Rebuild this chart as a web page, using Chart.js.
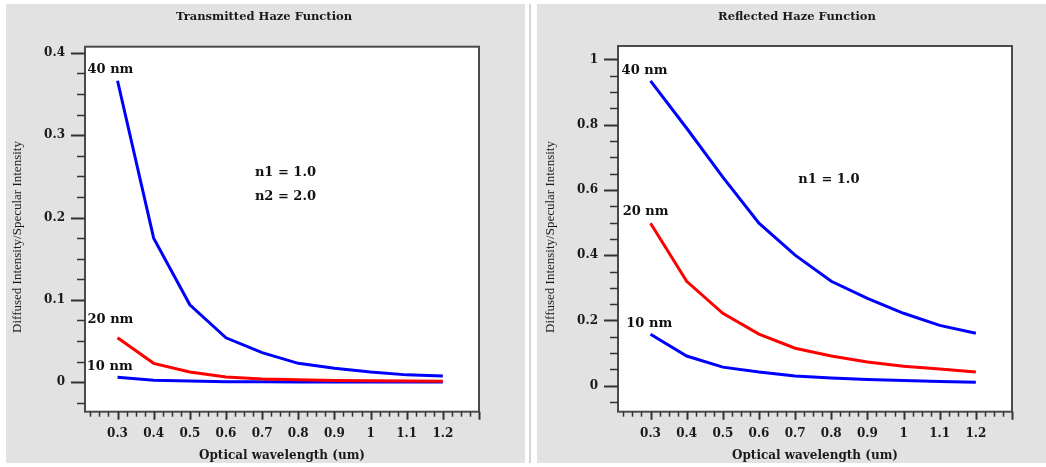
<!DOCTYPE html>
<html>
<head>
<meta charset="utf-8">
<title>Haze Function</title>
<script src="https://cdn.jsdelivr.net/npm/chart.js@4.4.1/dist/chart.umd.min.js"></script>
<style>
  html, body { margin: 0; padding: 0; background: #fff; overflow: hidden; }
  body { width: 1046px; height: 467px; position: relative; }
  .panel { position: absolute; top: 4px; height: 459px; background: #e2e2e2; }
  #leftPanel { left: 6px; width: 519px; }
  #rightPanel { left: 537px; width: 509px; }
  #divider { position: absolute; left: 529px; top: 4px; width: 2px; height: 459px; background: #d4d4d4; }
  canvas { display: block; }
</style>
</head>
<body>
<div class="panel" id="leftPanel"><canvas id="transChart" width="519" height="459"></canvas></div>
<div id="divider"></div>
<div class="panel" id="rightPanel"><canvas id="reflChart" width="509" height="459"></canvas></div>
<script>
// x values (um)
const wavelengths = [0.3, 0.4, 0.5, 0.6, 0.7, 0.8, 0.9, 1.0, 1.1, 1.2];

// transmitted haze, n1 = 1.0, n2 = 2.0
const trans40 = [0.366, 0.175, 0.094, 0.054, 0.036, 0.023, 0.017, 0.0125, 0.009, 0.0077];
const trans20 = [0.054, 0.023, 0.0125, 0.0065, 0.004, 0.003, 0.0022, 0.0018, 0.0015, 0.0012];
const trans10 = [0.006, 0.0025, 0.0015, 0.0008, 0.0005, 0.0004, 0.0003, 0.0003, 0.0002, 0.0002];

// reflected haze, n1 = 1.0
const refl40 = [0.934, 0.789, 0.639, 0.498, 0.40, 0.32, 0.268, 0.222, 0.185, 0.161];
const refl20 = [0.498, 0.32, 0.222, 0.158, 0.115, 0.091, 0.073, 0.06, 0.051, 0.042];
const refl10 = [0.158, 0.091, 0.057, 0.042, 0.030, 0.024, 0.019, 0.016, 0.013, 0.011];

const sizeLabels = ["40 nm", "20 nm", "10 nm"];

// tick labels
const xTickValues = [0.3, 0.4, 0.5, 0.6, 0.7, 0.8, 0.9, 1.0, 1.1, 1.2];
const xTickLabels = ["0.3", "0.4", "0.5", "0.6", "0.7", "0.8", "0.9", "1", "1.1", "1.2"];
const transYTicks = [0, 0.1, 0.2, 0.3, 0.4];
const transYLabels = ["0", "0.1", "0.2", "0.3", "0.4"];
const reflYTicks = [0, 0.2, 0.4, 0.6, 0.8, 1];
const reflYLabels = ["0", "0.2", "0.4", "0.6", "0.8", "1"];

const BLUE = "#0000ff";
const RED = "#ff0000";
const tickFont = { family: "'DejaVu Serif'", size: 12, weight: "bold" };

// frame, minor/major tick marks, titles and the text notes
const hazeDecor = {
  id: "hazeDecor",
  beforeDraw(chart) {
    const { ctx, chartArea: a } = chart;
    ctx.save();
    ctx.fillStyle = "#fff";
    ctx.fillRect(a.left, a.top, a.right - a.left, a.bottom - a.top);
    ctx.restore();
  },
  afterDraw(chart, args, opts) {
    const { ctx, chartArea: a } = chart;
    const xs = chart.scales.x;
    const ys = chart.scales.y;
    ctx.save();

    ctx.strokeStyle = "#4a4a4a";
    ctx.lineWidth = 2;
    ctx.strokeRect(a.left, a.top, a.right - a.left, a.bottom - a.top);

    // y ticks
    ctx.strokeStyle = "#333";
    let n0 = Math.ceil(ys.min / opts.yMinor - 1e-6);
    for (let n = n0; n * opts.yMinor <= ys.max + 1e-9; n++) {
      const v = n * opts.yMinor;
      const major = Math.abs(v / opts.yMajor - Math.round(v / opts.yMajor)) < 1e-6;
      const py = Math.round(ys.getPixelForValue(v)) + 0.5;
      ctx.lineWidth = major ? 2 : 1.5;
      ctx.beginPath();
      ctx.moveTo(a.left - (major ? 14 : 8), py);
      ctx.lineTo(a.left, py);
      ctx.stroke();
    }
    // x ticks
    n0 = Math.ceil(xs.min / opts.xMinor - 1e-6);
    for (let n = n0; n * opts.xMinor <= xs.max + 1e-9; n++) {
      const v = n * opts.xMinor;
      const major = Math.abs(v / opts.xMajor - Math.round(v / opts.xMajor)) < 1e-6;
      const px = Math.round(xs.getPixelForValue(v)) + 0.5;
      ctx.lineWidth = major ? 2 : 1.5;
      ctx.beginPath();
      ctx.moveTo(px, a.bottom);
      ctx.lineTo(px, a.bottom + (major ? 8 : 5));
      ctx.stroke();
    }

    // notes inside the plot
    ctx.fillStyle = "#111";
    ctx.font = "bold 13px 'DejaVu Serif'";
    ctx.textAlign = "left";
    ctx.textBaseline = "middle";
    opts.notes.forEach((nt) => {
      ctx.fillText(nt.text, xs.getPixelForValue(nt.x), ys.getPixelForValue(nt.y));
    });

    // titles
    ctx.fillStyle = "#1a1a1a";
    ctx.textAlign = "center";
    ctx.font = "bold 11.5px 'DejaVu Serif'";
    ctx.fillText(opts.title, opts.titleX, 13);
    ctx.font = "bold 12px 'DejaVu Serif'";
    ctx.fillText("Optical wavelength (um)", (a.left + a.right) / 2, 452);

    ctx.translate(opts.yTitleX, 233);
    ctx.rotate(-Math.PI / 2);
    ctx.font = "13px 'Liberation Serif'";
    ctx.fillText("Diffused Intensity/Specular Intensity", 0, 0);
    ctx.restore();
  },
};

function makeChart(id, cfg) {
  return new Chart(document.getElementById(id), {
    type: "line",
    data: {
      datasets: cfg.series.map((s, i) => ({
        label: sizeLabels[i],
        data: wavelengths.map((w, j) => ({ x: w, y: s[j] })),
        borderColor: cfg.colors[i],
        borderWidth: 3,
        pointRadius: 0,
        tension: 0,
        fill: false,
      })),
    },
    options: {
      responsive: false,
      animation: false,
      layout: { padding: { top: cfg.top, left: 0, right: cfg.right, bottom: 0 } },
      plugins: {
        legend: { display: false },
        tooltip: { enabled: false },
        hazeDecor: cfg.decor,
      },
      scales: {
        x: {
          type: "linear",
          min: 0.21,
          max: 1.3,
          grid: { display: false, drawTicks: false, tickLength: 0 },
          border: { display: false },
          afterFit: (s) => { s.height = 459 - cfg.bottom; },
          afterBuildTicks: (s) => { s.ticks = xTickValues.map((v) => ({ value: v })); },
          ticks: {
            padding: 15,
            font: tickFont,
            color: "#1a1a1a",
            maxRotation: 0,
            autoSkip: false,
            callback: (v, i) => xTickLabels[i],
          },
        },
        y: {
          min: cfg.yMin,
          max: cfg.yMax,
          grid: { display: false, drawTicks: false, tickLength: 0 },
          border: { display: false },
          afterFit: (s) => { s.width = cfg.left; },
          afterBuildTicks: (s) => { s.ticks = cfg.yTicks.map((v) => ({ value: v })); },
          ticks: {
            padding: 20,
            font: tickFont,
            color: "#1a1a1a",
            autoSkip: false,
            callback: (v, i) => cfg.yLabels[i],
          },
        },
      },
    },
    plugins: [hazeDecor],
  });
}

makeChart("transChart", {
  series: [trans40, trans20, trans10],
  colors: [BLUE, RED, BLUE],
  top: 42.7,
  left: 79,
  right: 519 - 473,
  bottom: 407.7,
  yMin: -0.0357,
  yMax: 0.4073,
  yTicks: transYTicks,
  yLabels: transYLabels,
  decor: {
    title: "Transmitted Haze Function",
    titleX: 258,
    yTitleX: 12,
    yMajor: 0.1, yMinor: 0.025,
    xMajor: 0.1, xMinor: 0.025,
    notes: [
      { text: sizeLabels[0], x: 0.217, y: 0.38 },
      { text: sizeLabels[1], x: 0.217, y: 0.0756 },
      { text: sizeLabels[2], x: 0.215, y: 0.019 },
      { text: "n1 = 1.0", x: 0.68, y: 0.255 },
      { text: "n2 = 2.0", x: 0.68, y: 0.225 },
    ],
  },
});

makeChart("reflChart", {
  series: [refl40, refl20, refl10],
  colors: [BLUE, RED, BLUE],
  top: 42,
  left: 81,
  right: 509 - 475,
  bottom: 407.7,
  yMin: -0.0796,
  yMax: 1.041,
  yTicks: reflYTicks,
  yLabels: reflYLabels,
  decor: {
    title: "Reflected Haze Function",
    titleX: 260,
    yTitleX: 14,
    yMajor: 0.2, yMinor: 0.05,
    xMajor: 0.1, xMinor: 0.025,
    notes: [
      { text: sizeLabels[0], x: 0.22, y: 0.967 },
      { text: sizeLabels[1], x: 0.223, y: 0.535 },
      { text: sizeLabels[2], x: 0.233, y: 0.191 },
      { text: "n1 = 1.0", x: 0.709, y: 0.632 },
    ],
  },
});
</script>
</body>
</html>
